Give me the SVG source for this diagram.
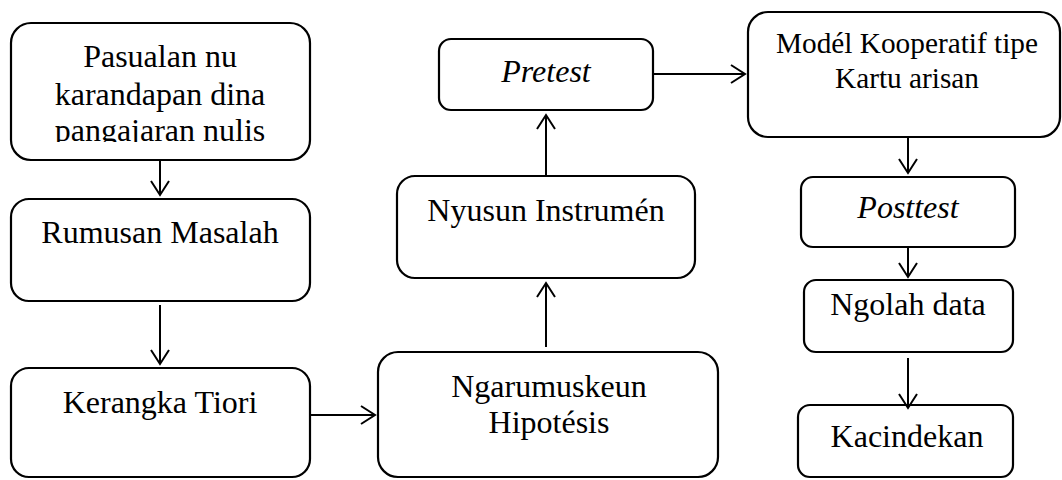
<svg xmlns="http://www.w3.org/2000/svg" width="1062" height="480" viewBox="0 0 1062 480">
<style>
.box{fill:#fff;stroke:#000;stroke-width:2.2}
.t{font-size:32px;fill:#000;text-anchor:middle}
.s{font-size:29.3px}
.i{font-style:italic}
.c{fill:none;stroke:#000;stroke-width:2}
</style>
<defs>
<marker id="arr" viewBox="-16 -10 18 20" markerWidth="18" markerHeight="20" refX="0" refY="0" orient="auto" markerUnits="userSpaceOnUse">
<path d="M -14 -9 L 0 0 L -14 9" fill="none" stroke="#000" stroke-width="2"/>
</marker>
<clipPath id="clip1"><rect x="11" y="23" width="299" height="119"/></clipPath>
</defs>
<rect width="1062" height="480" fill="#fff"/>
<g font-family="'Liberation Serif', 'DejaVu Serif', serif">
<g id="n1">
<rect class="box" x="11" y="23" width="299" height="137" rx="20"/>
<g clip-path="url(#clip1)">
<text class="t" x="160" y="67">Pasualan nu</text>
<text class="t" x="160" y="105">karandapan dina</text>
<text class="t" x="160" y="141">pangajaran nulis</text>
</g>
</g>
<g id="n2">
<rect class="box" x="11" y="199" width="299" height="102" rx="18"/>
<text class="t" x="160" y="243">Rumusan Masalah</text>
</g>
<g id="n3">
<rect class="box" x="11" y="368" width="299" height="109" rx="18"/>
<text class="t" x="160" y="413">Kerangka Tiori</text>
</g>
<g id="n4">
<rect class="box" x="378" y="352" width="340" height="125" rx="20"/>
<text class="t" x="549" y="397">Ngarumuskeun</text>
<text class="t" x="549" y="433">Hipotésis</text>
</g>
<g id="n5">
<rect class="box" x="397" y="176" width="298" height="102" rx="18"/>
<text class="t" x="546" y="221">Nyusun Instrumén</text>
</g>
<g id="n6">
<rect class="box" x="439" y="39" width="214" height="71" rx="12"/>
<text class="t i" x="546" y="82">Pretest</text>
</g>
<g id="n7">
<rect class="box" x="748" y="12" width="312" height="125" rx="20"/>
<text class="t s" x="907" y="53">Modél Kooperatif tipe</text>
<text class="t s" x="907" y="88">Kartu arisan</text>
</g>
<g id="n8">
<rect class="box" x="801" y="177" width="214" height="70" rx="12"/>
<text class="t i" x="908" y="218">Posttest</text>
</g>
<g id="n9">
<rect class="box" x="804" y="280" width="209" height="72" rx="12"/>
<text class="t" x="908" y="315">Ngolah data</text>
</g>
<g id="n10">
<rect class="box" x="798" y="405" width="215" height="72" rx="12"/>
<text class="t" x="907" y="447">Kacindekan</text>
</g>
</g>
<g id="connectors">
<line class="c" x1="160" y1="160" x2="160" y2="195" marker-end="url(#arr)"/>
<line class="c" x1="160" y1="305" x2="160" y2="364" marker-end="url(#arr)"/>
<line class="c" x1="310" y1="415" x2="375" y2="415" marker-end="url(#arr)"/>
<line class="c" x1="546" y1="347" x2="546" y2="283" marker-end="url(#arr)"/>
<line class="c" x1="546" y1="176" x2="546" y2="115" marker-end="url(#arr)"/>
<line class="c" x1="653" y1="74" x2="745" y2="74" marker-end="url(#arr)"/>
<line class="c" x1="908" y1="137" x2="908" y2="173" marker-end="url(#arr)"/>
<line class="c" x1="908" y1="247" x2="908" y2="277" marker-end="url(#arr)"/>
<line class="c" x1="908" y1="358" x2="908" y2="408" marker-end="url(#arr)"/>
</g>
</svg>
